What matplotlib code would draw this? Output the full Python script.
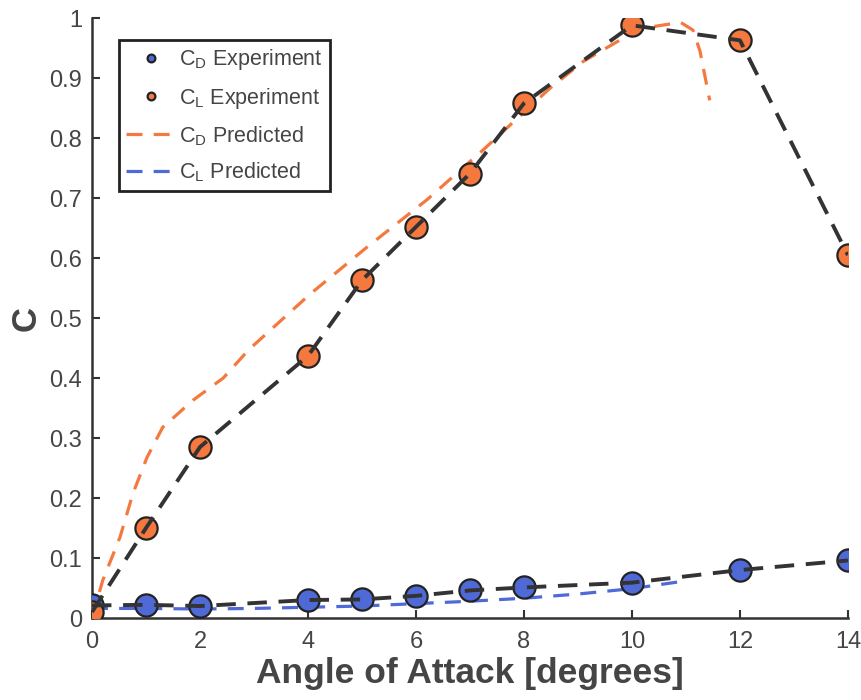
import matplotlib
matplotlib.use('Agg')
import matplotlib.pyplot as plt

plt.rcParams['font.family'] = ['Liberation Sans', 'DejaVu Sans']
plt.rcParams['mathtext.fontset'] = 'custom'
plt.rcParams['mathtext.rm'] = 'Liberation Sans'

# experiment data
alpha_exp = [0, 1, 2, 4, 5, 6, 7, 8, 10, 12, 14]
cl_exp = [0.01, 0.15, 0.285, 0.437, 0.563, 0.652, 0.741, 0.858, 0.988, 0.963, 0.605]
cd_exp = [0.021, 0.022, 0.020, 0.030, 0.031, 0.037, 0.046, 0.051, 0.059, 0.080, 0.096]

# predicted curves
alpha_pl = [0, 0.2, 0.52, 0.76, 1.02, 1.31, 1.87, 2.43, 2.9, 4.04, 5.09, 6.2, 7.24,
            8.48, 9.1, 10.0, 10.33, 10.9, 11.13, 11.26, 11.44]
cl_pred = [0.0, 0.063, 0.135, 0.208, 0.268, 0.318, 0.363, 0.40, 0.447, 0.54, 0.618,
           0.697, 0.78, 0.883, 0.928, 0.975, 0.985, 0.993, 0.98, 0.945, 0.863]
alpha_pd = [0, 1, 2, 3, 4, 5, 6, 7, 8, 9, 10, 11]
cd_pred = [0.016, 0.016, 0.015, 0.016, 0.018, 0.020, 0.024, 0.028, 0.033, 0.040, 0.049, 0.062]

orange = '#f5793f'
blue = '#4f6ad6'
dark = '#333333'
grey = '#454545'

fig = plt.figure(figsize=(8.62, 7.0), dpi=100)
ax = fig.add_axes([0.1067, 0.1171, 0.877, 0.857])

ax.plot(alpha_pl, cl_pred, color=orange, lw=2.3, dashes=(5, 3.5), label=r'C$_\mathrm{D}$ Predicted', zorder=2)
ax.plot(alpha_pd, cd_pred, color=blue, lw=2.3, dashes=(5, 3.5), label=r'C$_\mathrm{L}$ Predicted', zorder=2)

ax.plot(alpha_exp, cd_exp, 'o', ms=16, mfc=blue, mec='#222222', mew=1.6, zorder=3, label=r'C$_\mathrm{D}$ Experiment')
ax.plot(alpha_exp, cl_exp, 'o', ms=16, mfc=orange, mec='#222222', mew=1.6, zorder=3, label=r'C$_\mathrm{L}$ Experiment')

ax.plot(alpha_exp, cl_exp, color=dark, lw=2.8, dashes=(5, 3), zorder=4)
ax.plot(alpha_exp, cd_exp, color=dark, lw=2.8, dashes=(5, 3), zorder=4)

ax.set_xlim(0, 14)
ax.set_ylim(0, 1)
ax.set_xticks([0, 2, 4, 6, 8, 10, 12, 14])
ax.set_yticks([0, 0.1, 0.2, 0.3, 0.4, 0.5, 0.6, 0.7, 0.8, 0.9, 1])
ax.set_yticklabels(['0', '0.1', '0.2', '0.3', '0.4', '0.5', '0.6', '0.7', '0.8', '0.9', '1'])

for s in ['top', 'right']:
    ax.spines[s].set_visible(False)
for s in ['left', 'bottom']:
    ax.spines[s].set_color(dark)
    ax.spines[s].set_linewidth(1.8)
ax.tick_params(direction='in', length=6, width=1.5, color=dark, labelsize=17, labelcolor=grey)
ax.tick_params(axis='x', pad=9)
ax.tick_params(axis='y', pad=7)

ax.set_xlabel('Angle of Attack [degrees]', fontsize=25.5, fontweight='bold', color=grey, labelpad=3)
ax.set_ylabel('C', fontsize=25, fontweight='bold', color=grey, labelpad=5)

h, l = ax.get_legend_handles_labels()
order = [2, 3, 0, 1]
leg = ax.legend([h[i] for i in order], [l[i] for i in order], loc='upper left',
                bbox_to_anchor=(0.036, 0.963), borderaxespad=0, fontsize=15.5,
                markerscale=0.35, handlelength=2.3, handletextpad=0.15, fancybox=False,
                framealpha=1, edgecolor='#222222', labelspacing=0.62, borderpad=0.32)
leg.get_frame().set_linewidth(2.0)
for t in leg.get_texts():
    t.set_color(grey)

fig.savefig('out.png', dpi=100)
